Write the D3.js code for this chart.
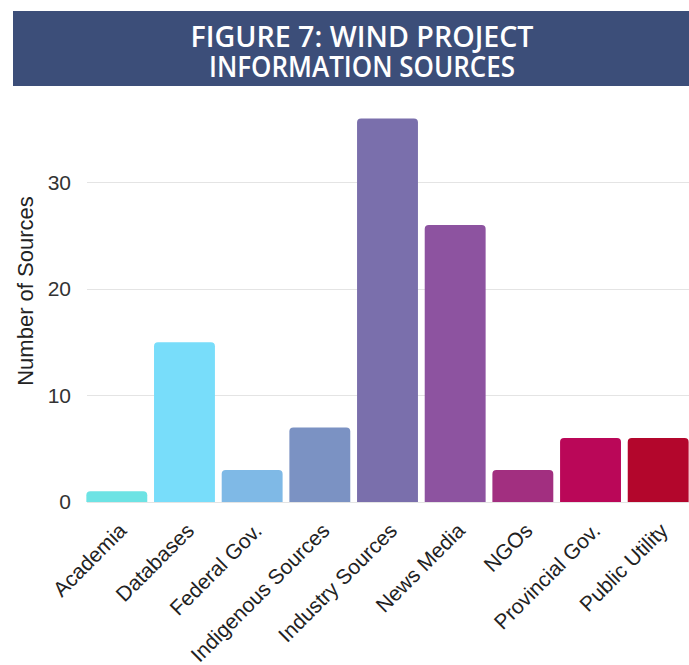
<!DOCTYPE html>
<html>
<head>
<meta charset="utf-8">
<script src="https://cdn.jsdelivr.net/npm/d3@7/dist/d3.min.js"></script>
<style>
  html, body { margin: 0; padding: 0; background: #fff; }
  svg { display: block; }
</style>
</head>
<body>
<svg id="chart" width="689" height="665"></svg>
<script>
// Information sources cited for wind projects
const categories = ["Academia", "Databases", "Federal Gov.", "Indigenous Sources",
  "Industry Sources", "News Media", "NGOs", "Provincial Gov.", "Public Utility"];
const counts = [1, 15, 3, 7, 36, 26, 3, 6, 6];
const barColors = ["#6de3e4", "#78ddfa", "#7fb9e6", "#7b92c3", "#7a6fac",
  "#8d53a0", "#a22f80", "#ba0758", "#b3062c"];
const yTicks = [0, 10, 20, 30];
const titleLines = ["FIGURE 7: WIND PROJECT", "INFORMATION SOURCES"];

const svg = d3.select("#chart");

// Title banner
svg.append("rect")
  .attr("x", 13).attr("y", 11).attr("width", 676).attr("height", 75)
  .attr("fill", "#3c4e79");

// Two-line title in one text block
const titleWidths = [343, 306];
const title = svg.append("text")
  .attr("text-anchor", "middle")
  .attr("font-family", "'Open Sans', sans-serif")
  .attr("font-weight", 600)
  .attr("font-size", 29)
  .attr("fill", "#ffffff");
title.selectAll("tspan").data(titleLines).enter().append("tspan")
  .attr("x", 362)
  .attr("y", (d, i) => 47 + i * 30)
  .attr("textLength", (d, i) => titleWidths[i])
  .attr("lengthAdjust", "spacingAndGlyphs")
  .text(d => d);

// Plot area
const plot = { left: 85, right: 690, top: 100, bottom: 502 };

const x = d3.scaleBand()
  .domain(categories)
  .range([plot.left, plot.right])
  .paddingInner(0.1)
  .paddingOuter(0.02);

const y = d3.scaleLinear()
  .domain([0, 37.8])
  .range([plot.bottom, plot.bottom - 37.8 * 10.65]);

// Value axis labels
const yAxis = d3.axisLeft(y).tickValues(yTicks).tickSize(0).tickPadding(16);
const gy = svg.append("g")
  .attr("transform", `translate(${plot.left + 2},0)`)
  .call(yAxis);
gy.select(".domain").remove();
gy.selectAll("text")
  .attr("font-family", "'Liberation Sans', Arial, sans-serif")
  .attr("font-size", 21)
  .attr("fill", "#333");

// Gridlines
svg.append("g").selectAll("line").data(yTicks).enter().append("line")
  .attr("x1", plot.left + 2).attr("x2", 689)
  .attr("y1", d => Math.round(y(d)) + 0.5).attr("y2", d => Math.round(y(d)) + 0.5)
  .attr("stroke", "#e4e4e4").attr("stroke-width", 1);

// Bars with rounded tops
svg.append("g").selectAll("path").data(counts).enter().append("path")
  .attr("fill", (d, i) => barColors[i])
  .attr("d", (d, i) => {
    const x0 = x(categories[i]), w = x.bandwidth();
    const y0 = y(d), y1 = y(0);
    const r = Math.min(4, (y1 - y0) / 2);
    return `M${x0},${y1} L${x0},${y0 + r} Q${x0},${y0} ${x0 + r},${y0}` +
      ` L${x0 + w - r},${y0} Q${x0 + w},${y0} ${x0 + w},${y0 + r} L${x0 + w},${y1} Z`;
  });

// Category labels, rotated
const xAxis = d3.axisBottom(x).tickSize(0).tickPadding(0);
const gx = svg.append("g")
  .attr("transform", `translate(0,${plot.bottom})`)
  .call(xAxis);
gx.select(".domain").remove();
gx.selectAll("text")
  .attr("font-family", "'Liberation Sans', Arial, sans-serif")
  .attr("font-size", 21)
  .attr("fill", "#222")
  .attr("text-anchor", "end")
  .attr("dy", 0)
  .attr("transform", "translate(11,30) rotate(-45)");

// Y axis title
svg.append("text")
  .attr("transform", "translate(33,291) rotate(-90)")
  .attr("text-anchor", "middle")
  .attr("font-family", "'Liberation Sans', Arial, sans-serif")
  .attr("font-size", 22)
  .attr("fill", "#222")
  .text("Number of Sources");
</script>
</body>
</html>
